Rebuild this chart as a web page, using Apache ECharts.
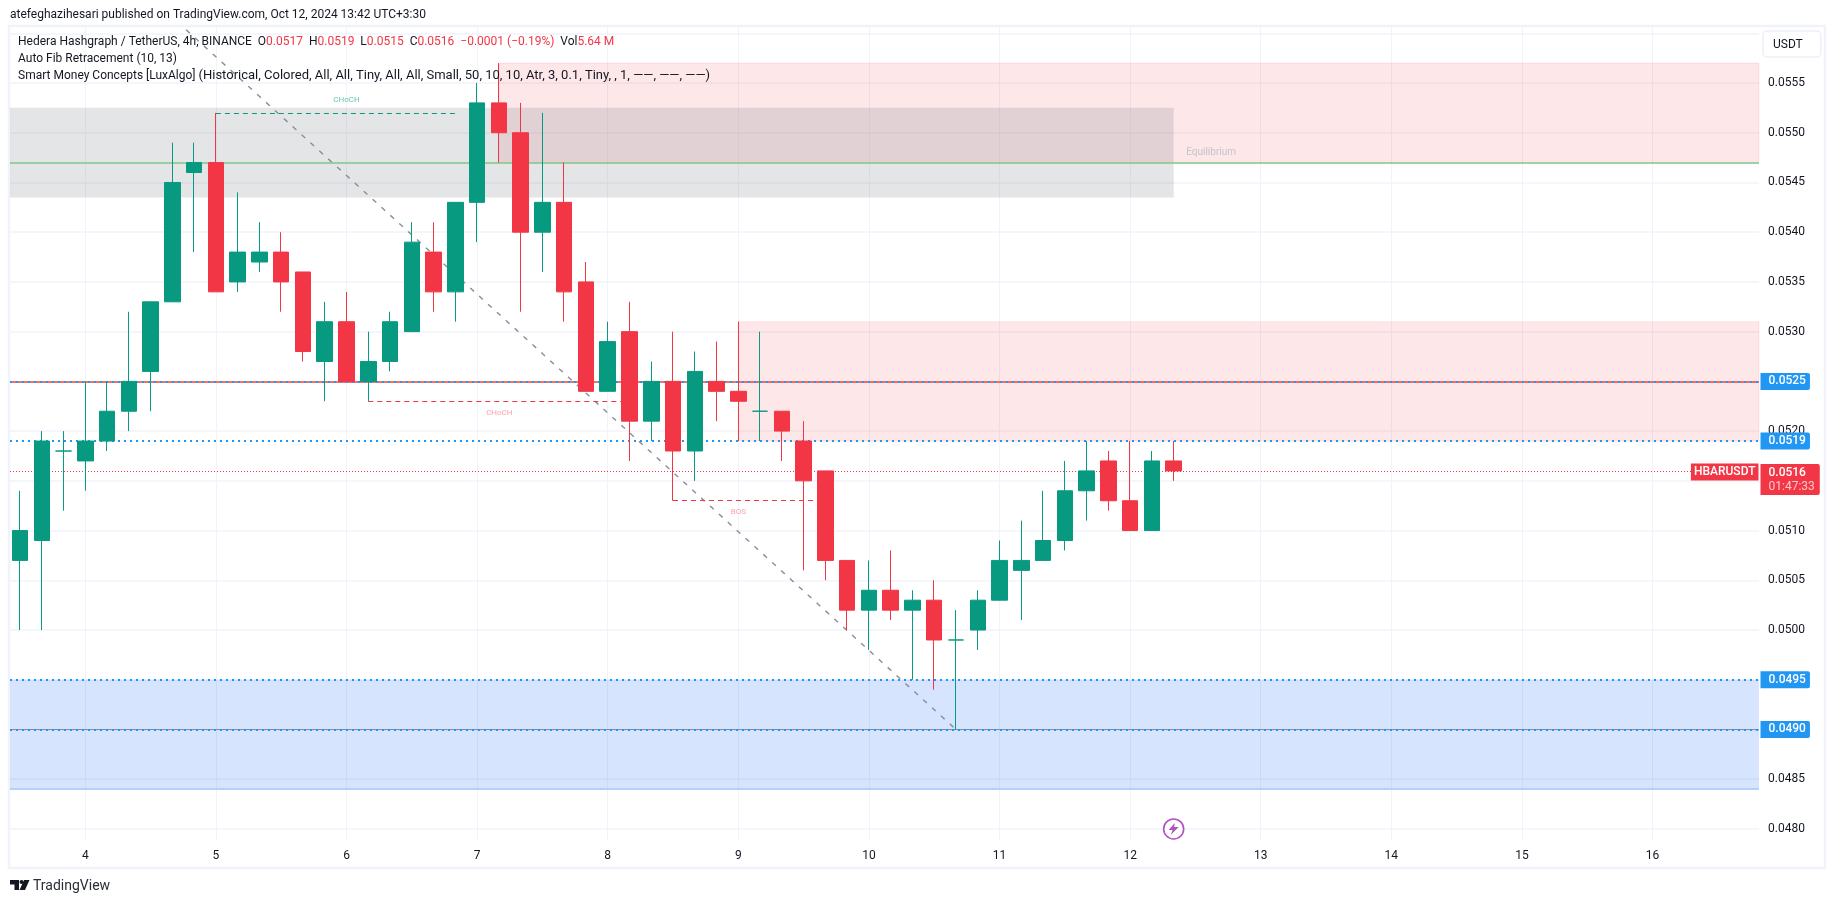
<!DOCTYPE html>
<html>
<head>
<meta charset="utf-8">
<title>HBARUSDT 4h</title>
<script src="https://cdn.jsdelivr.net/npm/echarts@6/dist/echarts.min.js"></script>
<style>html,body{margin:0;padding:0;background:#fff}#c{width:1835px;height:903px}</style>
</head>
<body>
<div id="c"></div>
<script>
// ---------- data ----------
const opens  = [.0507,.0509,.0518,.0517,.0519,.0522,.0526,.0533,.0546,.0547,.0535,.0537,.0538,.0536,.0527,.0531,.0525,.0527,.0530,.0538,.0534,.0543,.0553,.0550,.0540,.0543,.0535,.0524,.0530,.0521,.0525,.0518,.0525,.0524,.0522,.0522,.0519,.0516,.0507,.0502,.0504,.0502,.0503,.0499,.0500,.0503,.0506,.0507,.0509,.0514,.0517,.0513,.0510,.0517];
const closes = [.0510,.0519,.0518,.0519,.0522,.0525,.0533,.0545,.0547,.0534,.0538,.0538,.0535,.0528,.0531,.0525,.0527,.0531,.0539,.0534,.0543,.0553,.0550,.0540,.0543,.0534,.0524,.0529,.0521,.0525,.0518,.0526,.0524,.0523,.0522,.0520,.0515,.0507,.0502,.0504,.0502,.0503,.0499,.0499,.0503,.0507,.0507,.0509,.0514,.0516,.0513,.0510,.0517,.0516];
const lows   = [.0500,.0500,.0512,.0514,.0518,.0520,.0522,.0533,.0538,.0534,.0534,.0536,.0532,.0527,.0523,.0525,.0523,.0526,.0530,.0532,.0531,.0539,.0547,.0532,.0536,.0531,.0524,.0524,.0517,.0519,.0513,.0515,.0521,.0519,.0519,.0517,.0506,.0505,.0500,.0498,.0501,.0495,.0494,.0490,.0498,.0503,.0501,.0507,.0508,.0511,.0512,.0510,.0510,.0515];
const highs  = [.0514,.0520,.0520,.0525,.0525,.0532,.0533,.0549,.0549,.0552,.0544,.0541,.0540,.0536,.0533,.0534,.0530,.0532,.0541,.0541,.0543,.0555,.0557,.0553,.0552,.0547,.0537,.0531,.0533,.0527,.0530,.0528,.0529,.0531,.0530,.0522,.0521,.0516,.0507,.0507,.0508,.0504,.0505,.0502,.0504,.0509,.0511,.0514,.0517,.0519,.0518,.0519,.0518,.0519];
// day-of-month position of the first bar; bars are 4h (6 per day)
const firstBarDay = 3.5;
const barsPerDay = 6;
const dayTicks = [4,5,6,7,8,9,10,11,12,13,14,15,16];
const priceTicks = [0.0480,0.0485,0.0490,0.0495,0.0500,0.0505,0.0510,0.0515,0.0520,0.0525,0.0530,0.0535,0.0540,0.0545,0.0550,0.0555,0.0560];
const priceLabels = [0.0480,0.0485,0.0490,0.0495,0.0500,0.0505,0.0510,0.0515,0.0520,0.0525,0.0530,0.0535,0.0540,0.0545,0.0550,0.0555];
// axis windows
const xMin = 3.4234, xMax = 16.815;
const yMin = 0.047889, yMax = 0.056063;
// price levels and zones
const tagPrices = [0.0525, 0.0519, 0.0495, 0.0490];
const lastPrice = 0.0516;
const countdown = '01:47:33';
const equilibrium = 0.0547;
const fibRedLevel = 0.0525;
const fibGrayLevel = 0.0490;
const zoneFloor = 0.0484;
const pinkZones = [[7.1667, 0.0557, 0.0547],[9, 0.0531, 0.0519]];
const grayZone = [12.3333, 0.05525, 0.05435];
const blueZone = [0.0495, 0.0484];
const fibDiagonal = [[4.5, 0.05636],[10.6667, 0.0490]];
const structureGreen = [[5, 0.0552],[6.8333, 0.0552]];
const structureRed = [[[6.1667, 0.0523],[8.1667, 0.0523]],[[8.5, 0.0513],[9.6667, 0.0513]]];
const structureLabels = [
  ['CHoCH', 6, 0.05533, 'g'],
  ['CHoCH', 7.17, 0.05218, 'r'],
  ['BOS', 9.0, 0.05119, 'r'],
  ['Equilibrium', 12.62, 0.0548, 'e']
];
const eventMark = [12.3333, 0.0480];

// ---------- styles ----------
const UP = '#089981', DOWN = '#f23645', BLUE = '#2196f3', GRID = '#f0f3fa', INK = '#131722';
const FONT = 'Roboto, sans-serif';

const candleData = opens.map((o, i) => [firstBarDay + i / barsPerDay, o, closes[i], lows[i], highs[i]]);
const hline = (v, style, x0 = xMin, x1 = xMax) => [
  {coord: [x0, v], lineStyle: style}, {coord: [x1, v]}
];

const levelLines = [
  hline(equilibrium, {color:'#81c784', width:1.5, type:'solid'}),
  hline(zoneFloor, {color:'#b7d0fb', width:2, type:'solid'}),
  hline(fibGrayLevel, {color:'#8a8d97', width:1, type:'solid'}),
  hline(fibRedLevel, {color:'#f44336', width:1.5, type:'solid'}),
  ...tagPrices.map(v => hline(v, {color:BLUE, width:2, type:[2,4]})),
  hline(lastPrice, {color:DOWN, width:1, type:[1,2]}),
  [{coord: structureGreen[0], lineStyle:{color:UP, width:1, type:[5,4]}}, {coord: structureGreen[1]}],
  ...structureRed.map(s => [{coord:s[0], lineStyle:{color:DOWN, width:1, type:[5,4]}}, {coord:s[1]}])
];

const zoneAreas = [
  ...pinkZones.map(z => [
    {coord:[z[0], z[1]], itemStyle:{color:'rgba(242,54,69,.12)', borderColor:'rgba(242,54,69,.1)', borderWidth:1}},
    {coord:[xMax, z[2]]}
  ]),
  [{coord:[xMin, grayZone[1]], itemStyle:{color:'rgba(120,123,134,.2)'}}, {coord:[grayZone[0], grayZone[2]]}],
  [{coord:[xMin, blueZone[0]], itemStyle:{color:'rgba(27,105,244,.18)'}}, {coord:[xMax, blueZone[1]]}]
];

const tagBase = {coord:null, symbol:'circle', symbolSize:1, itemStyle:{color:'rgba(0,0,0,0)'}};
const priceTags = tagPrices.map(v => Object.assign({}, tagBase, {
  coord:[xMax, v],
  label:{show:true, position:'right', distance:1, formatter:v.toFixed(4), color:'#fff',
    fontFamily:FONT, fontSize:12, fontWeight:500, backgroundColor:BLUE, borderRadius:[0,2,2,0],
    padding:[3,4,2,8], lineHeight:12}
}));
priceTags.push(Object.assign({}, tagBase, {
  coord:[xMax, lastPrice],
  label:{show:true, position:'right', distance:1, offset:[0,8.5],
    formatter:'{p|'+lastPrice.toFixed(4)+'}\n{t|'+countdown+'}',
    backgroundColor:DOWN, borderRadius:[0,2,2,0], padding:[2,5,1,8],
    rich:{p:{color:'#fff',fontFamily:FONT,fontSize:12,fontWeight:500,lineHeight:14},
          t:{color:'#fcc9cd',fontFamily:FONT,fontSize:12,lineHeight:14}}}
}));
priceTags.push(Object.assign({}, tagBase, {
  coord:[xMax, lastPrice],
  label:{show:true, position:'left', distance:0, offset:[0,1], formatter:'HBARUSDT', color:'#fff',
    fontFamily:FONT, fontSize:12, fontWeight:500, backgroundColor:DOWN, padding:[3,3,2,3], lineHeight:12}
}));

const lblColor = {g:'rgba(8,153,129,.75)', r:'rgba(242,54,69,.6)', e:'#b7b9c4'};

const t = (text, x, y, fill, size, extra) => ({
  type:'text', x, y, z:30, silent:true,
  style:Object.assign({text, fill, fontFamily:FONT, fontSize:size, verticalAlign:'middle'}, extra||{})
});

const option = {
  animation:false,
  backgroundColor:'#ffffff',
  title:{text:'atefeghazihesari published on TradingView.com, Oct 12, 2024 13:42 UTC+3:30', left:10, top:8, padding:0,
    textStyle:{color:INK, fontFamily:FONT, fontSize:12, fontWeight:400, lineHeight:14}},
  grid:{left:10, right:76, top:27, bottom:63},
  xAxis:{
    type:'value', min:xMin, max:xMax,
    axisLine:{show:false}, axisTick:{show:false, customValues:dayTicks},
    axisLabel:{show:true, customValues:dayTicks, color:INK, fontFamily:FONT, fontSize:12, margin:10,
      formatter:v => String(v)},
    splitLine:{show:true, lineStyle:{color:GRID, width:1}}
  },
  yAxis:{
    type:'value', position:'right', min:yMin, max:yMax,
    axisLine:{show:false}, axisTick:{show:false, customValues:priceTicks},
    axisLabel:{show:true, customValues:priceLabels, color:INK, fontFamily:FONT, fontSize:12, margin:9,
      padding:[2,0,0,0], formatter:v => v.toFixed(4)},
    splitLine:{show:true, lineStyle:{color:GRID, width:1.5}}
  },
  series:[
    {
      name:'Auto Fib', type:'line', z:2, silent:true, symbol:'none', clip:true,
      data:fibDiagonal,
      lineStyle:{color:'#8a8d97', width:1.4, type:[5,7]},
      markArea:{silent:true, z:1, data:zoneAreas},
      markLine:{silent:true, z:3, symbol:'none', precision:6, label:{show:false}, data:levelLines},
      markPoint:{silent:true, z:20, data:priceTags}
    },
    {
      name:'HBARUSDT', type:'candlestick', z:5, silent:true, barWidth:16,
      data:candleData,
      itemStyle:{color:UP, color0:DOWN, borderColor:UP, borderColor0:DOWN, borderColorDoji:UP, borderWidth:1}
    },
    {
      name:'Labels', type:'scatter', z:6, silent:true, symbolSize:0,
      data:structureLabels.map(l => ({
        value:[l[1], l[2]],
        label:{show:true, position:'inside', formatter:l[0], color:lblColor[l[3]],
          fontFamily:FONT, fontSize:l[3]==='e'?10:8}
      }))
    },
    {
      name:'Event', type:'scatter', z:7, silent:true, symbol:'circle', symbolSize:20,
      data:[eventMark],
      itemStyle:{color:'#fff', borderColor:'#9c27b0', borderWidth:1.6}
    },
    {
      name:'EventBolt', type:'scatter', z:8, silent:true,
      symbol:'path://M6 0 L0 7 L4 7 L2 12 L10 4 L5.5 4 Z', symbolSize:[10,12],
      data:[eventMark],
      itemStyle:{color:'#9c27b0'}
    }
  ],
  graphic:[
    {type:'rect', z:-1, silent:true, shape:{x:9,y:26,width:1816,height:842},
      style:{fill:'none', stroke:GRID, lineWidth:2.5}},
    {type:'rect', z:25, silent:true, shape:{x:1763,y:31,width:58,height:26,r:4},
      style:{fill:'#fff', stroke:'#eef0f6', lineWidth:1.5}},
    t('USDT', 1773, 44.5, INK, 12),
    {type:'text', x:18, y:42, z:30, silent:true, style:{
      text:'{k|Hedera Hashgraph / TetherUS, 4h, BINANCE  O}{r|0.0517}{k|  H}{r|0.0519}{k|  L}{r|0.0515}{k|  C}{r|0.0516}{r|  −0.0001 (−0.19%)}{k|  Vol}{r|5.64 M}',
      verticalAlign:'middle', rich:{k:{fill:INK,fontFamily:FONT,fontSize:12},r:{fill:DOWN,fontFamily:FONT,fontSize:12}}}},
    t('Auto Fib Retracement (10, 13)', 18, 59, INK, 12),
    {type:'text', x:18, y:76, z:30, silent:true, style:{
      text:'{a|Smart Money Concepts [LuxAlgo] }{b|(Historical, Colored, All, All, Tiny, All, All, Small, 50, 10, 10, Atr, 3, 0.1, Tiny, , 1, ——, ——, ——)}',
      verticalAlign:'middle', rich:{a:{fill:INK,fontFamily:FONT,fontSize:12},b:{fill:INK,fontFamily:FONT,fontSize:13}}}},
    {type:'polygon', z:30, silent:true, shape:{points:[[10,880],[19,880],[19,890],[14.5,890],[14.5,884.5],[10,884.5]]}, style:{fill:INK}},
    {type:'circle', z:30, silent:true, shape:{cx:21.5,cy:882,r:2}, style:{fill:INK}},
    {type:'polygon', z:30, silent:true, shape:{points:[[24,880],[29.5,880],[25,890],[19.5,890]]}, style:{fill:INK}},
    t('TradingView', 33, 886, '#2a2e39', 14)
  ]
};

const chart = echarts.init(document.getElementById('c'), null, {renderer:'canvas'});
chart.setOption(option);
</script>
</body>
</html>
